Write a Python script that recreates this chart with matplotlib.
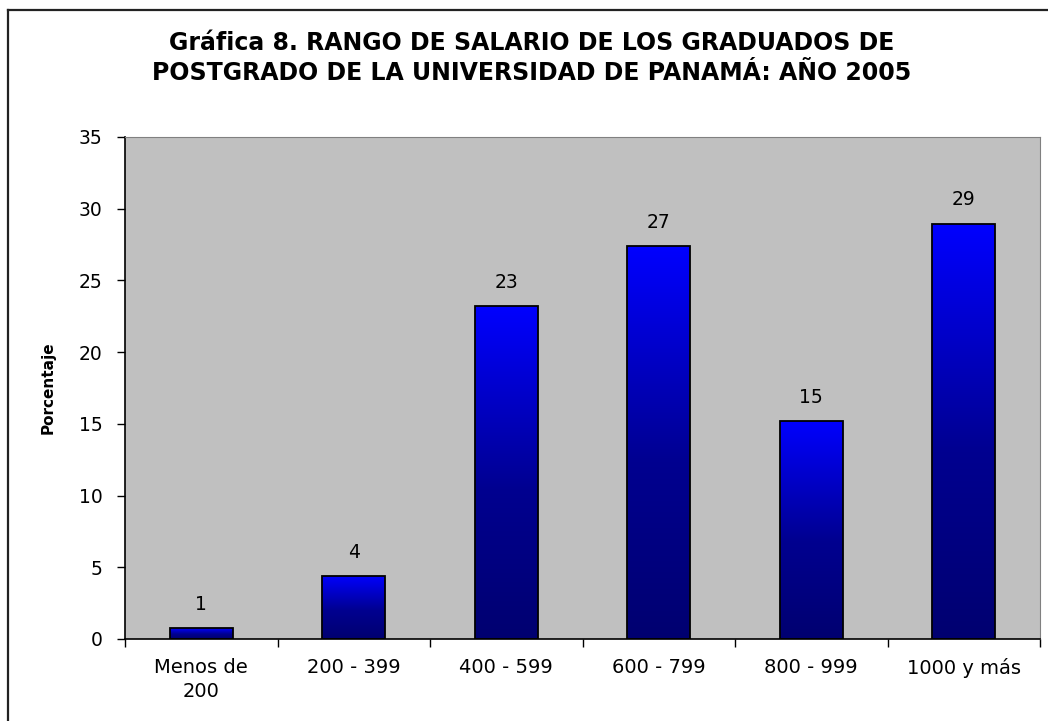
import matplotlib.pyplot as plt
import numpy as np
from matplotlib.colors import LinearSegmentedColormap
from matplotlib.lines import Line2D

plt.rcParams['font.family'] = ['DejaVu Sans']

categorias = ['Menos de\n200', '200 - 399', '400 - 599', '600 - 799', '800 - 999', '1000 y más']
porcentaje = [0.75, 4.4, 23.2, 27.4, 15.2, 28.95]
titulo = 'Gráfica 8. RANGO DE SALARIO DE LOS GRADUADOS DE\nPOSTGRADO DE LA UNIVERSIDAD DE PANAMÁ: AÑO 2005'

fig = plt.figure(figsize=(10.48, 7.21), dpi=100)
ax = fig.add_axes([125/1048, 1-639/721, (1040-125)/1048, (639-137)/721])
ax.set_facecolor('#C0C0C0')

# gradiente: azul arriba, azul marino abajo
grad = LinearSegmentedColormap.from_list('azul', [(0, '#000070'), (0.45, '#000090'), (1, '#0000FF')])
x = np.arange(len(categorias))
bars = ax.bar(x, porcentaje, width=0.41, color='none', edgecolor='black', linewidth=1.3, zorder=3)
for b, v in zip(bars, porcentaje):
    x0, w = b.get_x(), b.get_width()
    img = ax.imshow(np.linspace(0, 1, 256).reshape(-1, 1), cmap=grad, origin='lower',
                    extent=[x0, x0 + w, 0, v], aspect='auto', zorder=2)
    img.set_clip_path(b)
    ax.text(x0 + w/2, v + 1.0, f'{v:.0f}', ha='center', va='bottom', fontsize=13.5)

ax.set_xlim(-0.5, len(categorias) - 0.5)
ax.set_ylim(0, 35)
ax.set_yticks(range(0, 36, 5))
ax.set_xticks(x)
ax.set_xticklabels(categorias, fontsize=14, linespacing=1.3)
ax.set_xticks(np.arange(-0.5, len(categorias), 1), minor=True)
ax.tick_params(axis='x', which='major', length=0, pad=14)
ax.tick_params(axis='x', which='minor', length=6, width=1, color='black', direction='out')
ax.tick_params(axis='y', length=6, width=1, direction='out', labelsize=13.5, pad=10)
ax.set_ylabel('Porcentaje', fontsize=11, fontweight='bold', labelpad=17)
for s in ['left', 'bottom']:
    ax.spines[s].set_color('black')
    ax.spines[s].set_linewidth(1.2)
for s in ['top', 'right']:
    ax.spines[s].set_color('#808080')

fig.text(532/1048, 1 - 58/721, titulo, ha='center', va='center', fontsize=17,
         fontweight='bold', linespacing=1.3)

# marco exterior
fig.add_artist(Line2D([8/1048, 8/1048], [0, 1 - 10/721], color='#222222', lw=1.6))
fig.add_artist(Line2D([8/1048, 1], [1 - 10/721, 1 - 10/721], color='#222222', lw=1.6))

fig.savefig('out.png', dpi=100)
